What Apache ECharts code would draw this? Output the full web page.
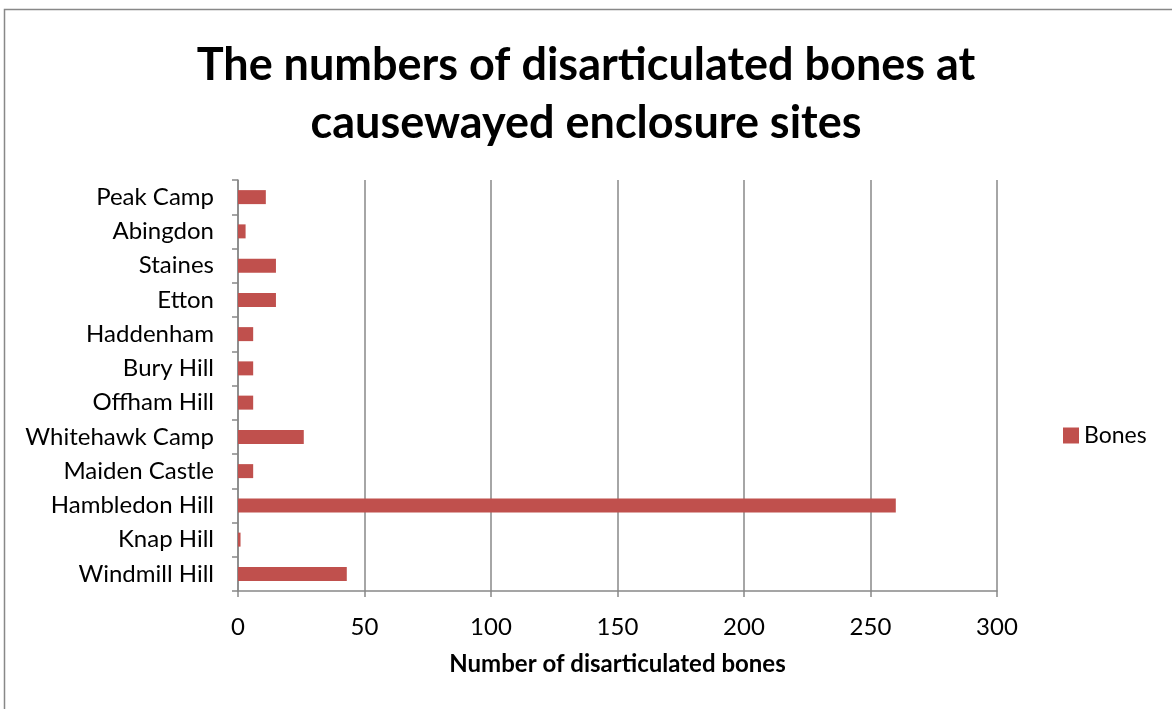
<!DOCTYPE html>
<html><head><meta charset="utf-8">
<script src="https://cdn.jsdelivr.net/npm/echarts@6/dist/echarts.min.js"></script>
<style>html,body{margin:0;padding:0;background:#fff}#c{width:1172px;height:709px}</style>
</head><body><div id="c"></div>
<script>
const categories = ['Windmill Hill','Knap Hill','Hambledon Hill','Maiden Castle','Whitehawk Camp','Offham Hill','Bury Hill','Haddenham','Etton','Staines','Abingdon','Peak Camp'];
const bones = [43, 1, 260, 6, 26, 6, 6, 6, 15, 15, 3, 11];
const xTicks = [0, 50, 100, 150, 200, 250, 300];
const titleText = 'The numbers of disarticulated bones at\ncausewayed enclosure sites';
const xName = 'Number of disarticulated bones';
const seriesName = 'Bones';

const font = 'Lato, "Open Sans", sans-serif';
const chart = echarts.init(document.getElementById('c'), null, {renderer: 'canvas'});
chart.setOption({
  animation: false,
  textStyle: {fontFamily: font},
  graphic: [{type: 'rect', shape: {x: 4.5, y: 9.5, width: 1300, height: 900}, style: {fill: 'none', stroke: '#888', lineWidth: 1.5}, silent: true}],
  title: {text: titleText, left: 'center', top: 31,
    textStyle: {fontFamily: font, fontWeight: 'bold', fontSize: 45, lineHeight: 58, color: '#000'}},
  legend: {data: [seriesName], left: 1058, top: 419, itemWidth: 16, itemHeight: 16, itemGap: 6,
    icon: 'rect', textStyle: {fontFamily: font, fontSize: 23, color: '#000'}},
  grid: {left: 238, right: 175, top: 180, bottom: 118, containLabel: false},
  xAxis: {type: 'value', min: 0, max: 300, interval: 50,
    name: xName, nameLocation: 'middle', nameGap: 61,
    nameTextStyle: {fontFamily: font, fontWeight: 'bold', fontSize: 24, color: '#000'},
    axisLine: {show: true, lineStyle: {color: '#888', width: 1.5}},
    axisTick: {show: true, length: 6, lineStyle: {color: '#888', width: 1.5}},
    axisLabel: {fontSize: 24, color: '#000', margin: 24, fontFamily: font},
    splitLine: {show: true, lineStyle: {color: '#888', width: 1.5}}},
  yAxis: {type: 'category', data: categories,
    axisLine: {show: true, lineStyle: {color: '#888', width: 1.5}},
    axisTick: {show: true, length: 6, lineStyle: {color: '#888', width: 1.5}},
    axisLabel: {fontSize: 24, color: '#000', margin: 24, fontFamily: font},
    splitLine: {show: false}},
  series: [{name: seriesName, type: 'bar', data: bones, barWidth: 14,
    itemStyle: {color: '#C0504D'}}]
});
</script></body></html>
